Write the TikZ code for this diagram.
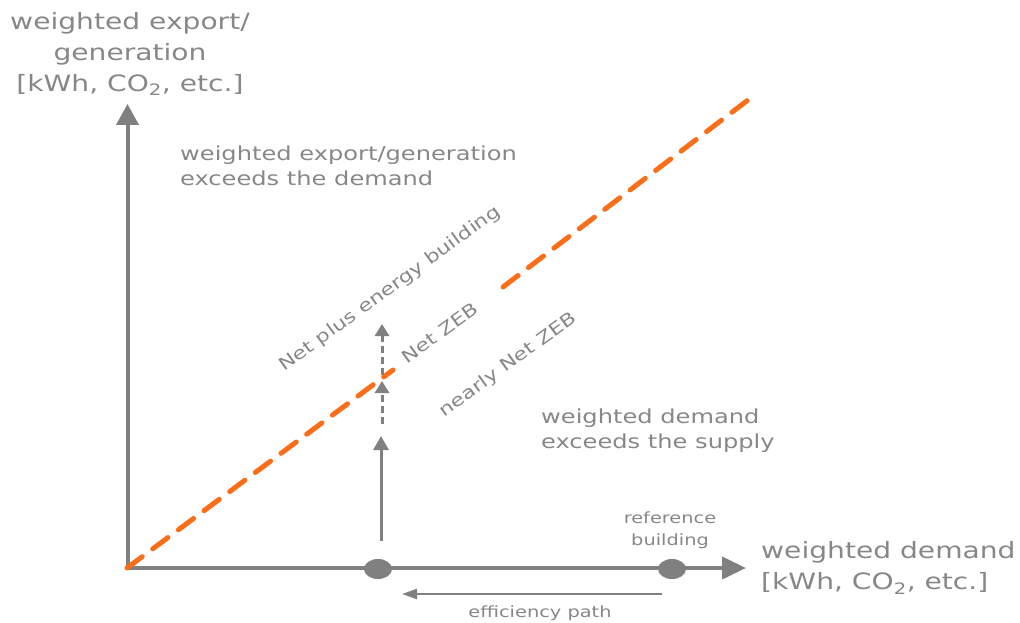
\documentclass[tikz,border=0pt]{standalone}
\usepackage{fontspec}
\setmainfont[FakeStretch=1.25]{DejaVu Sans}
\usetikzlibrary{arrows.meta,shapes.geometric}
\definecolor{axisgray}{RGB}{128,128,128}
\definecolor{txtgray}{RGB}{135,135,135}
\definecolor{zeborange}{RGB}{250,110,25}
\begin{document}
\begin{tikzpicture}[x=1pt,y=-1pt,
  lbl/.style={text=txtgray,inner sep=0pt,font=\fontsize{19.3}{25}\selectfont},
  biglbl/.style={text=txtgray,inner sep=0pt,font=\fontsize{22.5}{31}\selectfont},
  smalllbl/.style={text=txtgray,inner sep=0pt,font=\fontsize{15.5}{22}\selectfont},
  rotlbl/.style={text=txtgray,inner sep=0pt,rotate=36,font=\fontsize{17.5}{20}\selectfont},
  axis/.style={draw=axisgray,line width=4pt},
  dot/.style={ellipse,fill=axisgray,minimum width=28pt,minimum height=20pt,inner sep=0pt},
  balance/.style={draw=zeborange,line width=5pt,dash pattern=on 19pt off 13pt,line cap=round},
  gaparrow/.style={draw=axisgray,line width=3pt,dash pattern=on 7pt off 4pt},
]
\useasboundingbox (0,0) rectangle (1020,623);

% axes
\coordinate (origin) at (127,568);
\coordinate (ybase) at (127.5,570);
\coordinate (ytip) at (127.5,104);
\coordinate (xbase) at (125.5,568);
\coordinate (xtip) at (746,568);
\draw[axis,-{Triangle[length=21pt,width=22pt]}] (ybase) -- (ytip);
\draw[axis,-{Triangle[length=24pt,width=22pt]}] (xbase) -- (xtip);

% buildings on the demand axis
\node[dot] (nzeb) at (378,569) {};
\node[dot] (ref) at (672,569) {};

% balance line with a gap for the labels
\coordinate (b1) at (393,370);
\coordinate (b2) at (503,287);
\coordinate (b3) at (748,100);
\draw[balance] (origin) -- (b1);
\draw[balance] (b2) -- (b3);

% vertical steps above the improved building
\coordinate (s0) at (381,541);
\coordinate (s1) at (381,436);
\coordinate (d0) at (382,424);
\coordinate (d1) at (382,381);
\coordinate (e0) at (382,375);
\coordinate (e1) at (382,324);
\draw[draw=axisgray,line width=3pt,-{Triangle[length=14pt,width=15pt]}] (s0) -- (s1);
\draw[gaparrow,-{Triangle[length=12pt,width=14pt]}] (d0) -- (d1);
\draw[gaparrow,-{Triangle[length=12pt,width=14pt]}] (e0) -- (e1);

% efficiency path
\coordinate (p0) at (662,594);
\coordinate (p1) at (402,594);
\draw[draw=axisgray,line width=2.5pt,-{Triangle[length=15pt,width=10pt]}] (p0) -- (p1);

% labels
\node[biglbl,align=center] (ylab) at (130,54) {weighted export/\\generation\\{[kWh, CO\textsubscript{2}, etc.]}};
\node[biglbl,align=left,anchor=west] (xlab) at (761,568) {weighted demand\\{[kWh, CO\textsubscript{2}, etc.]}};
\node[lbl,align=left,anchor=west] (above) at (180,165.5) {weighted export/generation\\exceeds the demand};
\node[lbl,align=left,anchor=west] (below) at (541,430.5) {weighted demand\\exceeds the supply};
\node[smalllbl,align=center] (reflab) at (670,530) {reference\\building};
\node[smalllbl] (efflab) at (540,613) {efficiency path};
\node[rotlbl] (plus) at (390,289) {Net plus energy building};
\node[rotlbl] (zeb) at (440,333) {Net ZEB};
\node[rotlbl] (nearly) at (508,365) {nearly Net ZEB};
\end{tikzpicture}
\end{document}
